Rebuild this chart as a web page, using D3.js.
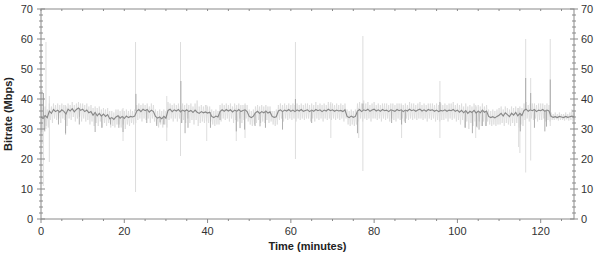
<!DOCTYPE html>
<html>
<head>
<meta charset="utf-8">
<script src="https://cdn.jsdelivr.net/npm/d3@7"></script>
<style>
  body { margin: 0; background: #fff; }
  svg text { font-family: "Liberation Sans", Arial, sans-serif; }
</style>
</head>
<body>
<div id="chart"></div>
<script>
// bitrate sampled every 0.5 min (dark trace)
const step = 0.5;
const smoothed = [
  34, 33.5, 34.5, 33.8, 36, 35.2, 36.5, 35.8, 36.3, 35.6,
  36.4, 35.9, 35, 36.6, 36, 36.8, 35.7, 36.5, 37, 36.2,
  36.6, 35.8, 36.3, 35.4, 35.8, 34.6, 35.5, 34.4, 35.2, 34.3,
  35, 34.2, 34.8, 33.4, 33.8, 33.2, 34, 34.4, 33.6, 34.2,
  33.5, 34.3, 33.8, 34.2, 34, 34.3, 36, 36.5, 35.8, 36.6,
  36.1, 36.5, 35.6, 36.3, 35.8, 34.2, 33.6, 34, 33.4, 34.2,
  33.6, 36.2, 36.6, 35.8, 36.4, 36, 36.5, 35.7, 36.3, 35.9,
  36.4, 35.8, 36.2, 35.5, 36.3, 35.6, 35.2, 35.8, 35.4, 35.7,
  35.3, 35.6, 34.2, 33.8, 34.3, 34, 35.8, 36.4, 35.9, 36.5,
  36, 36.4, 35.7, 36.3, 35.9, 36.5, 35.8, 36.2, 36.4, 35.8,
  34.2, 33.8, 34.3, 35.4, 35.9, 35.2, 35.8, 35.4, 36, 35.3,
  35.7, 34.2, 33.9, 34.1, 36, 36.4, 35.8, 36.3, 36, 36.5,
  35.9, 36.3, 35.8, 36.4, 36, 36.5, 35.9, 36.2, 36.4, 35.8,
  36.3, 35.9, 36.5, 36.1, 36.4, 35.8, 36.3, 36, 36.6, 36.1,
  36.4, 35.9, 36.3, 36, 36.2, 35.8, 36.4, 34.2, 33.8, 34.3,
  33.9, 34.2, 36, 36.5, 35.8, 36.4, 36.1, 36.6, 35.9, 36.3,
  36.6, 36, 36.4, 35.9, 36.5, 36.1, 36.3, 35.8, 36.4, 36.2,
  35.9, 36.5, 36.1, 36.4, 35.8, 36.3, 36, 36.6, 36.1, 36.4,
  35.9, 36.3, 36.6, 36, 36.4, 35.9, 36.5, 36.2, 36.4, 35.9,
  36.3, 35.8, 36.2, 36, 36.4, 35.9, 36.3, 36.1, 36.5, 35.9,
  36.3, 35.6, 36.2, 35.4, 36.1, 35.2, 35.9, 35.5, 36.2, 35.3,
  36, 35.4, 36.3, 35.6, 36, 34.2, 33.8, 34.1, 33.7, 34.2,
  34.6, 35.2, 34.3, 35.4, 34.8, 34.1, 35.3, 34.6, 35.5, 34.4,
  35.2, 34.5, 36.2, 36.6, 35.9, 36.4, 36.1, 36.5, 35.8, 36.3,
  36.1, 36.5, 35.9, 36.3, 36, 34.2, 33.9, 34.1, 33.8, 34.2,
  34, 33.8, 34.2, 33.9, 34.1, 34.3, 34
];

// raw trace: peak and trough in each 0.5 min slot (light trace)
const rawHigh = [
  38, 37, 37.5, 36.5, 38.5, 37.5, 38.5, 38, 38.5, 38,
  38.5, 38, 37.5, 38.5, 38, 39, 38, 38.5, 39, 38.5,
  38.5, 38, 38.5, 37.5, 38, 37, 37.5, 37, 37.5, 36.5,
  37, 36.5, 37, 36, 36, 35.5, 36.5, 36.5, 36, 36.5,
  36, 36.5, 36, 36.5, 36, 36.5, 38, 38.5, 38, 38.5,
  38, 38.5, 37.5, 38.5, 38, 36.5, 36, 36.5, 36, 36.5,
  36, 39, 38.5, 38, 38.5, 38, 38.5, 38, 38.5, 38,
  38.5, 38, 38.5, 37.5, 38.5, 39.5, 37.5, 38, 37.5, 38,
  37.5, 37.5, 36.5, 36, 36.5, 36, 38, 38.5, 38, 38.5,
  38, 38.5, 37.5, 38.5, 38, 38.5, 38, 38, 38.5, 38,
  36.5, 36, 36.5, 37.5, 38, 37.5, 38, 37.5, 38, 37.5,
  37.5, 36, 36, 36.5, 38, 38.5, 38, 38.5, 38, 38.5,
  38, 38.5, 38, 38.5, 38, 38.5, 38, 38.5, 38.5, 38,
  38.5, 38, 39, 38, 38.5, 38, 38.5, 38, 39, 38.5,
  38.5, 38, 38.5, 38, 38.5, 38, 38.5, 36.5, 36, 36.5,
  36, 36.5, 38.5, 39, 38.5, 39.5, 38.5, 39, 38, 38.5,
  39, 38, 38.5, 38, 38.5, 38.5, 38.5, 38, 38.5, 38.5,
  38, 38.5, 38.5, 38.5, 38, 38.5, 38, 39, 38.5, 38.5,
  38, 38.5, 39, 38, 38.5, 38, 38.5, 38.5, 38.5, 38,
  38.5, 38, 38.5, 38, 38.5, 38, 38.5, 38.5, 39, 38,
  38.5, 38, 38.5, 37.5, 38.5, 37.5, 38, 37.5, 38.5, 37.5,
  38, 37.5, 38.5, 37.5, 38, 36.5, 36, 36.5, 36, 36.5,
  37, 37.5, 36.5, 37.5, 37, 36.5, 37.5, 37, 37.5, 37,
  37.5, 37, 38.5, 39, 38, 38.5, 38.5, 38.5, 38, 38.5,
  38.5, 38.5, 38, 38.5, 38, 35.5, 35, 35.5, 35, 35.5,
  35, 35, 35.5, 35, 35.5, 36.5, 35.5
];

const rawLow = [
  29, 30, 31, 30.5, 33, 32, 33.5, 33, 33.5, 32,
  33.5, 33, 31, 33.5, 33, 34, 32.5, 33.5, 34, 32.5,
  33.5, 32.5, 33, 31.5, 32.5, 31, 32, 31, 32.5, 30.5,
  32, 31, 32, 30.5, 31, 30.5, 31.5, 31.5, 30.5, 31.5,
  30, 31.5, 31, 32, 31.5, 32, 33, 33.5, 32.5, 33.5,
  33, 33.5, 32, 33.5, 32.5, 31.5, 30.5, 31.5, 30.5, 31.5,
  30.5, 33, 33.5, 32.5, 33.5, 32.5, 33.5, 32, 33, 32,
  33.5, 32, 33, 31.5, 33, 31, 32, 32.5, 32, 32.5,
  32, 32.5, 31.5, 31, 31.5, 31.5, 32.5, 33.5, 33, 33.5,
  32.5, 33.5, 32, 33, 32.5, 33.5, 32, 33, 33.5, 32.5,
  31.5, 31, 31.5, 32, 33, 32, 32.5, 32, 33, 32,
  32.5, 31.5, 31, 31.5, 33, 33.5, 32.5, 33.5, 33, 33.5,
  33, 33.5, 32.5, 33.5, 33, 33.5, 33, 33.5, 33.5, 32.5,
  33.5, 32.5, 33.5, 33, 33.5, 32.5, 33.5, 33, 33.5, 33,
  33.5, 33, 33.5, 33, 33.5, 32.5, 33.5, 31.5, 31, 31.5,
  31, 31.5, 32.5, 33.5, 32.5, 33.5, 33, 33.5, 32.5, 33.5,
  33.5, 33, 33.5, 32.5, 33.5, 33, 33.5, 32.5, 33.5, 33,
  32.5, 33.5, 33, 33.5, 32.5, 33.5, 33, 33.5, 33, 33.5,
  33, 33.5, 33.5, 33, 33.5, 32.5, 33.5, 33, 33.5, 32.5,
  33, 32.5, 33, 33, 33.5, 32.5, 33.5, 33, 33.5, 32.5,
  33, 31.5, 33, 30.5, 32.5, 30, 32, 31, 32.5, 30.5,
  32.5, 31, 32.5, 31, 32.5, 31.5, 31, 31.5, 31, 31.5,
  31.5, 32, 31, 32, 31.5, 31, 32, 31, 32, 30.5,
  31.5, 31, 33, 33.5, 32.5, 33.5, 33, 33.5, 32.5, 33,
  33, 33.5, 32.5, 33, 32.5, 33, 33, 33.2, 32.8, 33,
  33, 32.8, 33.2, 32.8, 33, 32.5, 33
];

// isolated light bursts: [minute, low, high]
const spikes = [
  [0.3, 25, 43], [0.55, 11, 42], [1.2, 30, 59], [2, 19, 41], [5.9, 28, 38],
  [19.7, 26, 37], [22.7, 9, 59], [30.2, 26, 41], [33.5, 21, 59], [39.8, 26, 38],
  [46.9, 26, 37], [49, 27, 38], [61.1, 20, 59], [69.6, 27, 39], [76.3, 27, 37],
  [77.3, 16, 61], [86.6, 27, 38], [95.8, 27, 46], [104.4, 27, 38], [114.7, 24, 37],
  [115, 22, 36], [116.4, 15.5, 60], [117.6, 19.5, 47], [122.3, 31, 60]
];

// dark trace peaks and dips: [minute, value]
const peaks = [
  [0.6, 42], [22.8, 41.7], [33.6, 46], [61.1, 40], [77.3, 38.5],
  [95.8, 39], [116.4, 47], [117.6, 42], [122.3, 46.5]
];
const dips = [
  [0.9, 29.2], [4.2, 31.5], [5.9, 28.5], [9.2, 31.5], [13, 29], [14.6, 30.4],
  [16.7, 31.5], [18.7, 30.4], [19.7, 29], [25.4, 32], [27.8, 31], [28.6, 32.2],
  [29.5, 31.5], [33.8, 32], [34.6, 28.6], [35.3, 30.4], [40.7, 30.4], [43, 33],
  [46.9, 29.2], [47.8, 30.3], [48.9, 29.8], [51.4, 31], [52.6, 30.9], [53.9, 30.4],
  [58, 29.8], [65, 32], [76, 28.6], [84.2, 32], [86.6, 31.5], [87.5, 32],
  [101.9, 30.4], [103.6, 28.6], [104.6, 30.8], [105.2, 29.8], [106, 31], [106.9, 31],
  [115.1, 29.2], [118.5, 30.4], [121, 29.2], [121.4, 30.8]
];

const yTicks = [0, 10, 20, 30, 40, 50, 60, 70];
const xTicks = [0, 20, 40, 60, 80, 100, 120];

const W = 600, H = 257;
const x = d3.scaleLinear().domain([0, 128]).range([41, 574]);
const y = d3.scaleLinear().domain([0, 70]).range([219, 9]);

const svg = d3.select("#chart").append("svg")
  .attr("width", W)
  .attr("height", H);

const light = "#d9d9d9";
const dark = "#878787";

// raw trace, high and low of each slot alternate
const rawPts = [];
rawHigh.forEach((v, i) => {
  rawPts.push([i * step, v]);
  rawPts.push([i * step + step / 2, rawLow[i]]);
});

const line = d3.line()
  .x(d => x(d[0]))
  .y(d => y(d[1]));

svg.append("path")
  .datum(rawPts)
  .attr("d", line)
  .attr("fill", "none")
  .attr("stroke", light)
  .attr("stroke-width", 0.7);

svg.selectAll(".spike")
  .data(spikes)
  .enter()
  .append("line")
  .attr("class", "spike")
  .attr("x1", d => x(d[0]))
  .attr("x2", d => x(d[0]))
  .attr("y1", d => y(d[1]))
  .attr("y2", d => y(d[2]))
  .attr("stroke", light)
  .attr("stroke-width", 0.9);

svg.append("path")
  .datum(smoothed.map((v, i) => [i * step, v]))
  .attr("d", line)
  .attr("fill", "none")
  .attr("stroke", dark)
  .attr("stroke-width", 1.1);

// vertical strokes of the dark trace, from its level at that minute
const levelAt = t => smoothed[Math.round(t / step)];
svg.selectAll(".stroke")
  .data(peaks.concat(dips))
  .enter()
  .append("line")
  .attr("class", "stroke")
  .attr("x1", d => x(d[0]))
  .attr("x2", d => x(d[0]))
  .attr("y1", d => y(levelAt(d[0])))
  .attr("y2", d => y(d[1]))
  .attr("stroke", "#999")
  .attr("stroke-width", 0.8);

// frame
const axisColor = "#8a8a8a";
svg.append("rect")
  .attr("x", x(0))
  .attr("y", y(70))
  .attr("width", x(128) - x(0))
  .attr("height", y(0) - y(70))
  .attr("fill", "none")
  .attr("stroke", axisColor)
  .attr("stroke-width", 1);

// y ticks, left and right, crossing the axis line
const yMinor = d3.range(0, 71, 2).filter(v => v % 10 !== 0);
[x(0), x(128)].forEach(px => {
  svg.append("g").selectAll("line")
    .data(yTicks)
    .enter()
    .append("line")
    .attr("x1", px - 4).attr("x2", px + 4)
    .attr("y1", d => y(d)).attr("y2", d => y(d))
    .attr("stroke", axisColor);
  svg.append("g").selectAll("line")
    .data(yMinor)
    .enter()
    .append("line")
    .attr("x1", px - 2).attr("x2", px + 2)
    .attr("y1", d => y(d)).attr("y2", d => y(d))
    .attr("stroke", axisColor);
});

// x ticks on bottom and top
const xMinor = d3.range(5, 128, 5).filter(v => v % 20 !== 0);
svg.append("g").selectAll("line")
  .data(xTicks)
  .enter()
  .append("line")
  .attr("x1", d => x(d)).attr("x2", d => x(d))
  .attr("y1", y(0)).attr("y2", y(0) + 4)
  .attr("stroke", axisColor);
svg.append("g").selectAll("line")
  .data(xMinor)
  .enter()
  .append("line")
  .attr("x1", d => x(d)).attr("x2", d => x(d))
  .attr("y1", y(0)).attr("y2", y(0) + 2)
  .attr("stroke", axisColor);
svg.append("g").selectAll("line")
  .data(xTicks.concat(xMinor))
  .enter()
  .append("line")
  .attr("x1", d => x(d)).attr("x2", d => x(d))
  .attr("y1", y(70)).attr("y2", y(70) + 2)
  .attr("stroke", axisColor);

// tick labels
svg.append("g").selectAll("text")
  .data(yTicks)
  .enter()
  .append("text")
  .attr("x", x(0) - 8)
  .attr("y", d => y(d) + 4)
  .attr("text-anchor", "end")
  .attr("fill", "#333")
  .style("font-size", "11px")
  .text(d => d);

svg.append("g").selectAll("text")
  .data(yTicks)
  .enter()
  .append("text")
  .attr("x", x(128) + 7)
  .attr("y", d => y(d) + 4)
  .attr("text-anchor", "start")
  .attr("fill", "#333")
  .style("font-size", "11px")
  .text(d => d);

svg.append("g").selectAll("text")
  .data(xTicks)
  .enter()
  .append("text")
  .attr("x", d => x(d))
  .attr("y", y(0) + 16)
  .attr("text-anchor", "middle")
  .attr("fill", "#333")
  .style("font-size", "11px")
  .text(d => d);

// axis titles
svg.append("text")
  .attr("x", (x(0) + x(128)) / 2)
  .attr("y", 250)
  .attr("text-anchor", "middle")
  .attr("fill", "#222")
  .style("font-size", "11px")
  .style("font-weight", "bold")
  .text("Time (minutes)");

svg.append("text")
  .attr("transform", `translate(12, ${(y(0) + y(70)) / 2}) rotate(-90)`)
  .attr("text-anchor", "middle")
  .attr("fill", "#222")
  .style("font-size", "11px")
  .style("font-weight", "bold")
  .text("Bitrate (Mbps)");
</script>
</body>
</html>
